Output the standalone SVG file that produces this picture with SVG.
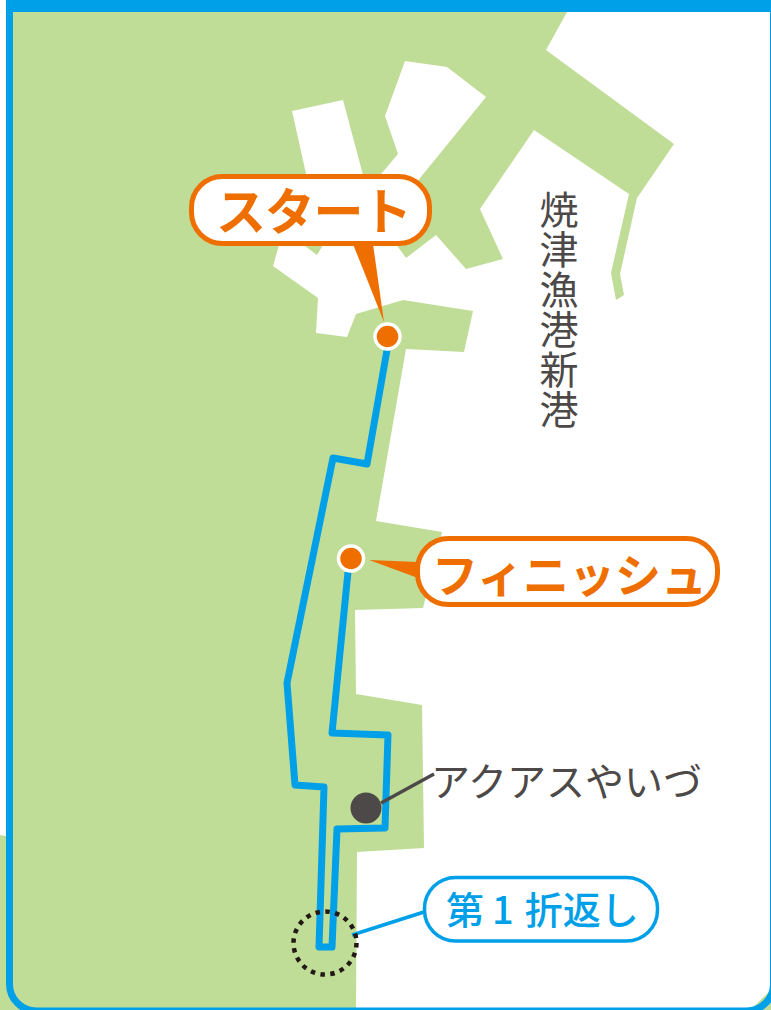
<svg xmlns="http://www.w3.org/2000/svg" width="771" height="1010" viewBox="0 0 771 1010">
<style>
.lbl{font-family:"Noto Sans CJK JP","Noto Sans",sans-serif}
.or{fill:#ee6f00}
.gr{fill:#4c4948}
.bubble{fill:#fff;stroke:#ee6f00;stroke-width:5}
.dotring{fill:#ee6f00;stroke:#fff;stroke-width:3.5}
</style>
<rect width="771" height="1010" fill="#fff"/>
<g id="land">
<path fill="#c0dd97" d="M6 12L567 12L546 50L674 144L637 198L620 274L624 295L616 300L611 273L629 194L534 130L480 209L503 259L466 269L436 235L406 258L390 236L420 178L486 97L447 67L405 61L385 116L398 154L382 173L375 178L370 200L363 175L343 100L292 111L307 178L330 225L323 245L317 255L305 246L290 225L279 245L273 266L318 298L316 333L347 337L356 314L403 300L473 311L464 352L406 349L376 521L442 532L423 608L355 610L356 694L422 705L424 848L357 852L356 1010L0 1010L0 835L6 836Z"/>
<path fill="#c0dd97" d="M771 990L771 1010L750 1010Z"/>
</g>
<path id="frame" d="M9.500 0V984a27 27 0 0 0 27 27H746.500a27 27 0 0 0 27 -27V0" fill="none" stroke="#00a0e9" stroke-width="7"/>
<rect x="6" y="0" width="765" height="12" fill="#00a0e9"/>
<g id="connectors" fill="none">
<path id="route" stroke="#00a0e9" stroke-width="7" stroke-linejoin="round" d="M387 350L367 464L333 458L287 683L295 785L324 787L319 947L332 947L337 829L385 828L388 735L332 733L348 572"/>
<path stroke="#4c4948" stroke-width="3.500" d="M381 803L434 774"/>
<path stroke="#00a0e9" stroke-width="3.500" d="M352 935L424 912"/>
</g>
<circle id="turn-marker" cx="325" cy="943" r="31.500" fill="none" stroke="#231815" stroke-width="4.500" stroke-dasharray="4.500 5.400"/>
<g id="start-node">
<path class="or" d="M353 244L373 244L384 322Z"/>
<rect class="bubble" x="191.500" y="176.500" width="238" height="67" rx="31"/>
<circle class="dotring" cx="387.500" cy="336.500" r="12.500"/>
<text class="lbl or" x="216" y="230" font-size="50" font-weight="700" letter-spacing="-1.300">スタート</text>
</g>
<g id="finish-node">
<path class="or" d="M369 560L418 562L418 578Z"/>
<rect class="bubble" x="417.500" y="538.500" width="300" height="66" rx="31"/>
<circle class="dotring" cx="351" cy="558.500" r="12.500"/>
<text class="lbl or" x="432" y="592" font-size="46" font-weight="700">フィニッシュ</text>
</g>
<g id="aquas-node">
<circle class="gr" cx="366" cy="808" r="15.500"/>
<text class="lbl gr" x="431" y="796" font-size="39">アクアスやいづ</text>
</g>
<g id="turn-node">
<rect x="424.500" y="877.500" width="233" height="63.500" rx="31" fill="#fff" stroke="#00a0e9" stroke-width="3.500"/>
<text class="lbl" x="446" y="924" font-size="38" font-weight="500" fill="#00a0e9">第<tspan dx="8">1</tspan><tspan dx="11">折返し</tspan></text>
</g>
<g id="port-label">
<text class="lbl gr" x="559" y="190" font-size="39" letter-spacing="1" writing-mode="vertical-rl">焼津漁港新港</text>
</g>
</svg>
